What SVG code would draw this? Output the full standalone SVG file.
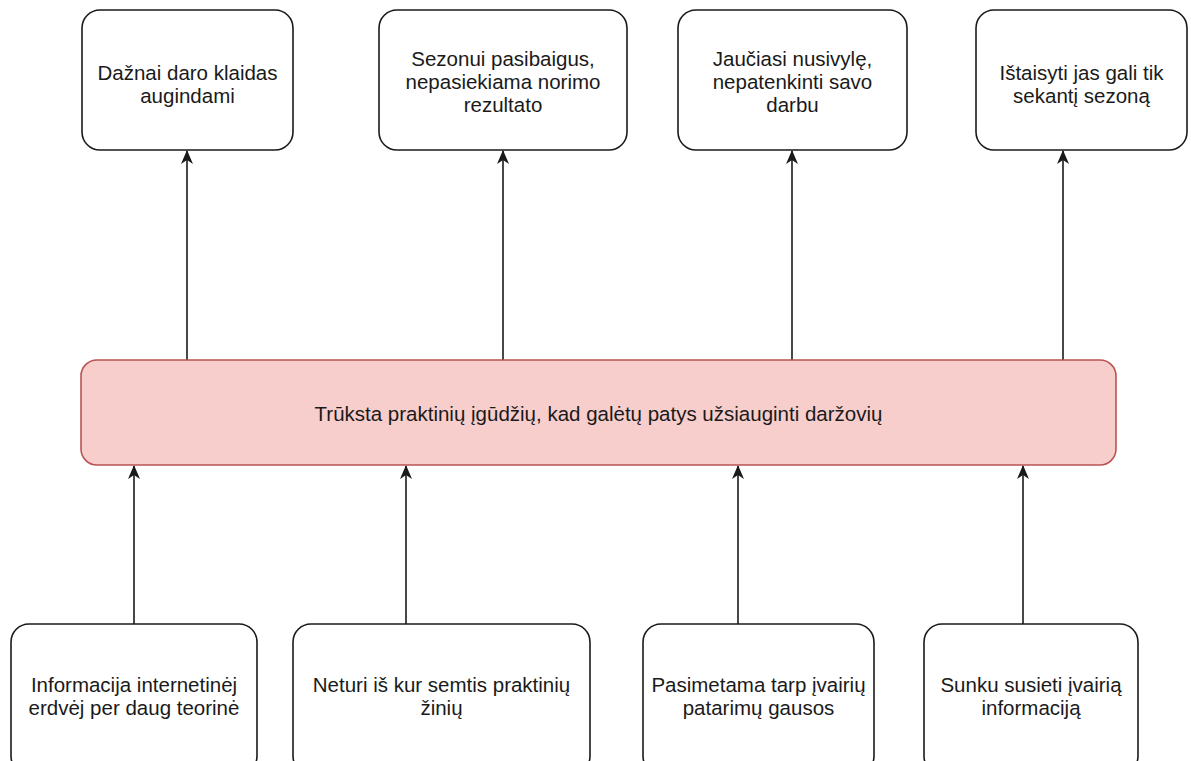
<svg xmlns="http://www.w3.org/2000/svg" width="1191" height="761" viewBox="0 0 1191 761">
<style>
.box{fill:#ffffff;stroke:#1a1a1a;stroke-width:1.6}
.core{fill:#f8cecc;stroke:#b85450;stroke-width:1.6}
.t{font-family:"Liberation Sans",Arial,sans-serif;font-size:20.5px;fill:#1a1a1a;text-anchor:middle}
.edge{stroke:#1a1a1a;stroke-width:1.6;fill:none;marker-end:url(#arr)}
</style>
<defs>
<marker id="arr" markerUnits="userSpaceOnUse" viewBox="0 0 14 12" refX="13" refY="6" markerWidth="14" markerHeight="12" orient="auto">
<path d="M0,0 L14,6 L0,12 L4,6 Z" fill="#1a1a1a"/>
</marker>
</defs>
<rect width="1191" height="761" fill="#ffffff"/>
<g id="connectors">
<line class="edge" x1="187" y1="360" x2="187" y2="151"/>
<line class="edge" x1="503" y1="360" x2="503" y2="151"/>
<line class="edge" x1="792" y1="360" x2="792" y2="151"/>
<line class="edge" x1="1063" y1="360" x2="1063" y2="151"/>
<line class="edge" x1="134" y1="624" x2="134" y2="466"/>
<line class="edge" x1="406" y1="624" x2="406" y2="466"/>
<line class="edge" x1="738" y1="624" x2="738" y2="466"/>
<line class="edge" x1="1023" y1="624" x2="1023" y2="466"/>
</g>
<g id="effect1">
<rect class="box" x="82" y="10" width="211" height="140" rx="18"/>
<text class="t" x="187.5" y="80">Dažnai daro klaidas</text>
<text class="t" x="187.5" y="103">augindami</text>
</g>
<g id="effect2">
<rect class="box" x="379" y="10" width="248" height="140" rx="18"/>
<text class="t" x="503" y="66">Sezonui pasibaigus,</text>
<text class="t" x="503" y="89">nepasiekiama norimo</text>
<text class="t" x="503" y="112">rezultato</text>
</g>
<g id="effect3">
<rect class="box" x="678" y="10" width="229" height="140" rx="18"/>
<text class="t" x="792.5" y="66">Jaučiasi nusivylę,</text>
<text class="t" x="792.5" y="89">nepatenkinti savo</text>
<text class="t" x="792.5" y="112">darbu</text>
</g>
<g id="effect4">
<rect class="box" x="976" y="10" width="211" height="140" rx="18"/>
<text class="t" x="1081.5" y="80">Ištaisyti jas gali tik</text>
<text class="t" x="1081.5" y="103">sekantį sezoną</text>
</g>
<g id="problem">
<rect class="core" x="81" y="360" width="1035" height="105" rx="16"/>
<text class="t" x="598.5" y="421">Trūksta praktinių įgūdžių, kad galėtų patys užsiauginti daržovių</text>
</g>
<g id="cause1">
<rect class="box" x="11" y="624" width="246" height="150" rx="18"/>
<text class="t" x="134" y="692">Informacija internetinėj</text>
<text class="t" x="134" y="715">erdvėj per daug teorinė</text>
</g>
<g id="cause2">
<rect class="box" x="293" y="624" width="297" height="150" rx="18"/>
<text class="t" x="441.5" y="692">Neturi iš kur semtis praktinių</text>
<text class="t" x="441.5" y="715">žinių</text>
</g>
<g id="cause3">
<rect class="box" x="643" y="624" width="231" height="150" rx="18"/>
<text class="t" x="758.5" y="692">Pasimetama tarp įvairių</text>
<text class="t" x="758.5" y="715">patarimų gausos</text>
</g>
<g id="cause4">
<rect class="box" x="924" y="624" width="214" height="150" rx="18"/>
<text class="t" x="1031" y="692">Sunku susieti įvairią</text>
<text class="t" x="1031" y="715">informaciją</text>
</g>
</svg>
